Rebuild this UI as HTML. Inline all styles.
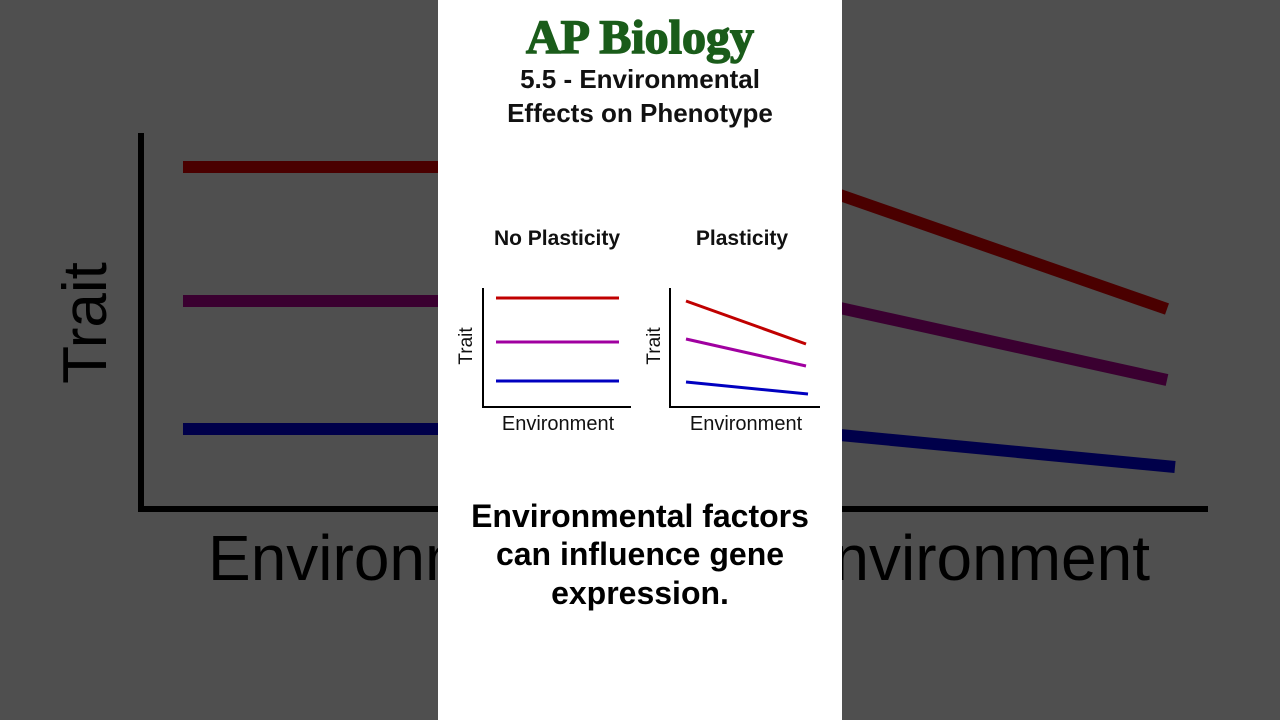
<!DOCTYPE html>
<html><head><meta charset="utf-8"><style>
html,body{margin:0;padding:0;width:1280px;height:720px;overflow:hidden;background:#4f4f4f}
</style></head><body>
<svg width="1280" height="720" xmlns="http://www.w3.org/2000/svg" style="display:block">
<rect width="1280" height="720" fill="#4f4f4f"/>
<g>
<path d="M141 133 V509 H1208" fill="none" stroke="#000" stroke-width="6"/>
<line x1="183" y1="167" x2="440" y2="167" stroke="#4a0000" stroke-width="12"/>
<line x1="183" y1="301" x2="440" y2="301" stroke="#3a0030" stroke-width="12"/>
<line x1="183" y1="429" x2="440" y2="429" stroke="#00004a" stroke-width="12"/>
<line x1="840" y1="195" x2="1167" y2="309" stroke="#4a0000" stroke-width="12"/>
<line x1="840" y1="308" x2="1167" y2="380" stroke="#3a0030" stroke-width="12"/>
<line x1="840" y1="435" x2="1175" y2="467" stroke="#00004a" stroke-width="12"/>
<text transform="translate(106,323) rotate(-90)" text-anchor="middle" font-family="Liberation Sans, sans-serif" font-size="62" fill="#000">Trait</text>
<text x="208" y="580" font-family="Liberation Sans, sans-serif" font-size="64" fill="#000">Environment</text>
<text x="1150" y="580" font-family="Liberation Sans, sans-serif" font-size="64" fill="#000" text-anchor="end">Environment</text>
</g>
<rect x="438" y="0" width="404" height="720" fill="#fff"/>
<text x="640" y="53" text-anchor="middle" font-family="Liberation Serif, serif" font-weight="bold" font-size="48" fill="#1a5c1a" stroke="#1a5c1a" stroke-width="1.5">AP Biology</text>
<text x="640" y="88" text-anchor="middle" font-family="Liberation Sans, sans-serif" font-weight="bold" font-size="26" fill="#111">5.5 - Environmental</text>
<text x="640" y="122" text-anchor="middle" font-family="Liberation Sans, sans-serif" font-weight="bold" font-size="26" fill="#111">Effects on Phenotype</text>
<text x="557" y="245" text-anchor="middle" font-family="Liberation Sans, sans-serif" font-weight="bold" font-size="21" fill="#111">No Plasticity</text>
<text x="742" y="245" text-anchor="middle" font-family="Liberation Sans, sans-serif" font-weight="bold" font-size="21" fill="#111">Plasticity</text>
<path d="M483 288 V407 H631" fill="none" stroke="#000" stroke-width="2"/>
<line x1="496" y1="298" x2="619" y2="298" stroke="#c00000" stroke-width="3"/>
<line x1="496" y1="342" x2="619" y2="342" stroke="#a000a0" stroke-width="3"/>
<line x1="496" y1="381" x2="619" y2="381" stroke="#0000c0" stroke-width="3"/>
<path d="M670 288 V407 H820" fill="none" stroke="#000" stroke-width="2"/>
<line x1="686" y1="301" x2="806" y2="344" stroke="#c00000" stroke-width="3"/>
<line x1="686" y1="339" x2="806" y2="366" stroke="#a000a0" stroke-width="3"/>
<line x1="686" y1="382" x2="808" y2="394" stroke="#0000c0" stroke-width="3"/>
<text transform="translate(472,346) rotate(-90)" text-anchor="middle" font-family="Liberation Sans, sans-serif" font-size="19" fill="#111">Trait</text>
<text transform="translate(660,346) rotate(-90)" text-anchor="middle" font-family="Liberation Sans, sans-serif" font-size="19" fill="#111">Trait</text>
<text x="558" y="430" text-anchor="middle" font-family="Liberation Sans, sans-serif" font-size="20" fill="#111">Environment</text>
<text x="746" y="430" text-anchor="middle" font-family="Liberation Sans, sans-serif" font-size="20" fill="#111">Environment</text>
<g font-family="Liberation Sans, sans-serif" font-weight="bold" font-size="32" fill="#000" text-anchor="middle">
<text x="640" y="527">Environmental factors</text>
<text x="640" y="565">can influence gene</text>
<text x="640" y="604">expression.</text>
</g>
</svg>
</body></html>
